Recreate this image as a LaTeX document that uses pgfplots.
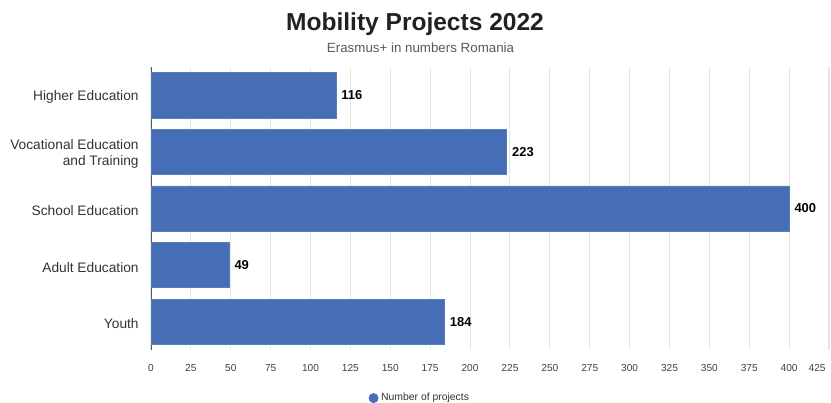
\documentclass[border=0pt]{standalone}
\usepackage{pgfplots}
\pgfplotsset{compat=1.18}
\usepackage{fontspec}
\setmainfont{Liberation Sans}
\definecolor{barc}{RGB}{69,110,180}
\begin{document}
\begin{tikzpicture}
\path[use as bounding box] (0pt,0pt) rectangle (623.25pt,302.25pt);
\node[font=\bfseries\fontsize{18.4}{20}\selectfont, text=black!87] at (311.25pt,284.5pt) {Mobility Projects 2022};
\node[font=\fontsize{10}{12}\selectfont, text=black!65] at (315.4pt,266.2pt) {Erasmus+ in numbers Romania};
\begin{axis}[
  at={(113.25pt,39.75pt)}, anchor=south west,
  scale only axis, width=508.5pt, height=212.25pt,
  xmin=0, xmax=425, ymin=-0.5, ymax=4.5,
  xbar, bar width=0.8,
  xtick={0,25,...,400},
  ytick={0,1,2,3,4},
  yticklabels={Youth,Adult Education,School Education,{Vocational Education\\and Training},Higher Education},
  yticklabel style={align=right, font=\fontsize{10.3}{12}\selectfont, text=black!80, xshift=-1.5pt, yshift=-1.5pt},
  xticklabel style={font=\fontsize{7.6}{9}\selectfont, text=black!75, yshift=-7pt},
  /pgf/number format/assume math mode=true,
  xmajorgrids, major grid style={draw=black!10, line width=0.8pt},
  axis lines*=left,
  x axis line style={draw=none},
  y axis line style={draw=black!65, line width=0.6pt},
  xtick style={draw=none},
  ytick style={draw=none},
  extra x ticks={425},
  extra x tick style={grid=major, xticklabel style={anchor=north east, xshift=1pt}},
  extra y ticks={-0.5,0.5,1.5,2.5,3.5,4.5},
  extra y tick labels={},
  extra y tick style={major tick length=60.75pt, tick align=outside, tick style={draw=black!18, line width=0.6pt}, grid=none},
  nodes near coords,
  every node near coord/.append style={font=\bfseries\fontsize{9.7}{11}\selectfont, text=black, anchor=west, xshift=0.5pt},
  legend style={at={(0.397,-0.17)}, anchor=center, draw=none, font=\fontsize{7.8}{9}\selectfont, text=black!80},
  legend cell align=left,
  legend image code/.code={\fill[barc] (0.15cm,0) circle (3.5pt);},
]
\addplot[fill=barc, draw=barc!90!white] coordinates {(184,0) (49,1) (400,2) (223,3) (116,4)};
\addlegendentry{Number of projects}
\end{axis}
\end{tikzpicture}
\end{document}
